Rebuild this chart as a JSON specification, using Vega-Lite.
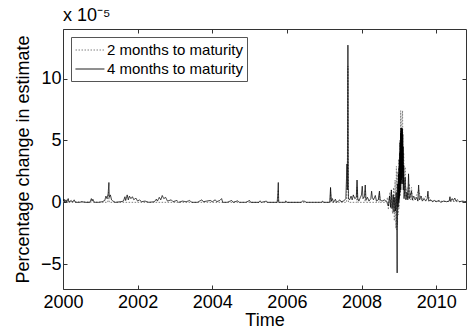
{
  "$schema": "https://vega.github.io/schema/vega-lite/v6.json",
  "width": 403,
  "height": 260,
  "autosize": {"type": "none"},
  "padding": {"left": 63, "top": 29, "right": 1, "bottom": 45},
  "background": "white",
  "config": {
    "font": "Liberation Sans",
    "view": {"stroke": "#333", "strokeWidth": 1},
    "axis": {"domain": false, "grid": false, "labelFlush": false, "labelOverlap": false, "tickColor": "#333", "tickSize": -4, "labelColor": "#000", "labelFontSize": 18, "titleFontSize": 18, "titleFontWeight": "normal", "titleColor": "#000", "labelFont": "Liberation Sans", "titleFont": "Liberation Sans"}
  },
  "title": {"text": "x 10⁻⁵", "anchor": "start", "frame": "group", "fontSize": 18, "fontWeight": "normal", "font": "Liberation Sans", "color": "#000", "offset": 4},
  "datasets": {
    "b": [
      {"t":2000.00,"v":0.1},{"t":2000.03,"v":0.25},{"t":2000.05,"v":0.0},{"t":2000.08,"v":0.2},{"t":2000.10,"v":0.05},{"t":2000.14,"v":0.3},{"t":2000.16,"v":0.0},{"t":2000.22,"v":0.15},{"t":2000.25,"v":0.0},{"t":2000.30,"v":0.2},{"t":2000.33,"v":0.0},{"t":2000.45,"v":0.0},{"t":2000.50,"v":0.05},{"t":2000.60,"v":0.0},{"t":2000.72,"v":0.0},{"t":2000.76,"v":0.3},{"t":2000.78,"v":0.1},{"t":2000.80,"v":0.25},{"t":2000.84,"v":0.0},{"t":2000.95,"v":0.0},{"t":2001.05,"v":0.05},{"t":2001.12,"v":0.15},{"t":2001.15,"v":0.5},{"t":2001.18,"v":0.3},{"t":2001.21,"v":0.7},{"t":2001.23,"v":1.6},{"t":2001.24,"v":0.4},{"t":2001.27,"v":0.6},{"t":2001.30,"v":0.2},{"t":2001.34,"v":0.1},{"t":2001.40,"v":0.0},{"t":2001.55,"v":0.05},{"t":2001.62,"v":0.1},{"t":2001.66,"v":0.45},{"t":2001.68,"v":0.15},{"t":2001.72,"v":0.6},{"t":2001.75,"v":0.2},{"t":2001.78,"v":0.5},{"t":2001.82,"v":0.3},{"t":2001.86,"v":0.45},{"t":2001.90,"v":0.2},{"t":2001.95,"v":0.35},{"t":2002.00,"v":0.1},{"t":2002.05,"v":0.2},{"t":2002.10,"v":0.05},{"t":2002.20,"v":0.1},{"t":2002.30,"v":0.0},{"t":2002.45,"v":0.05},{"t":2002.50,"v":0.25},{"t":2002.53,"v":0.1},{"t":2002.58,"v":0.4},{"t":2002.62,"v":0.2},{"t":2002.66,"v":0.55},{"t":2002.70,"v":0.3},{"t":2002.75,"v":0.4},{"t":2002.80,"v":0.1},{"t":2002.90,"v":0.2},{"t":2002.95,"v":0.05},{"t":2003.05,"v":0.15},{"t":2003.10,"v":0.0},{"t":2003.20,"v":0.1},{"t":2003.30,"v":0.05},{"t":2003.40,"v":0.15},{"t":2003.45,"v":0.0},{"t":2003.60,"v":0.0},{"t":2003.72,"v":0.2},{"t":2003.76,"v":0.05},{"t":2003.85,"v":0.1},{"t":2003.95,"v":0.15},{"t":2004.00,"v":0.05},{"t":2004.08,"v":0.2},{"t":2004.12,"v":0.05},{"t":2004.20,"v":0.15},{"t":2004.25,"v":0.3},{"t":2004.28,"v":0.0},{"t":2004.40,"v":0.0},{"t":2004.52,"v":0.15},{"t":2004.56,"v":0.0},{"t":2004.68,"v":0.12},{"t":2004.72,"v":0.0},{"t":2004.90,"v":0.0},{"t":2005.00,"v":0.15},{"t":2005.03,"v":0.0},{"t":2005.25,"v":0.0},{"t":2005.28,"v":0.12},{"t":2005.32,"v":0.0},{"t":2005.45,"v":0.1},{"t":2005.48,"v":0.0},{"t":2005.74,"v":0.0},{"t":2005.76,"v":0.8},{"t":2005.77,"v":1.6},{"t":2005.78,"v":0.0},{"t":2005.95,"v":0.0},{"t":2005.97,"v":0.12},{"t":2006.00,"v":0.0},{"t":2006.38,"v":0.0},{"t":2006.42,"v":0.1},{"t":2006.48,"v":0.08},{"t":2006.52,"v":0.0},{"t":2006.92,"v":0.0},{"t":2006.96,"v":0.1},{"t":2006.98,"v":0.0},{"t":2007.15,"v":0.0},{"t":2007.17,"v":1.2},{"t":2007.19,"v":0.1},{"t":2007.22,"v":0.3},{"t":2007.25,"v":0.0},{"t":2007.30,"v":0.25},{"t":2007.33,"v":0.0},{"t":2007.38,"v":0.1},{"t":2007.42,"v":0.2},{"t":2007.45,"v":0.05},{"t":2007.52,"v":0.1},{"t":2007.58,"v":0.3},{"t":2007.61,"v":3.1},{"t":2007.62,"v":1.0},{"t":2007.63,"v":7.4},{"t":2007.635,"v":12.7},{"t":2007.64,"v":7.4},{"t":2007.65,"v":0.3},{"t":2007.68,"v":0.2},{"t":2007.72,"v":0.5},{"t":2007.75,"v":0.2},{"t":2007.78,"v":0.6},{"t":2007.82,"v":0.3},{"t":2007.86,"v":0.4},{"t":2007.88,"v":1.8},{"t":2007.90,"v":0.3},{"t":2007.93,"v":0.1},{"t":2007.97,"v":0.4},{"t":2008.00,"v":0.6},{"t":2008.02,"v":1.3},{"t":2008.04,"v":0.3},{"t":2008.08,"v":0.5},{"t":2008.10,"v":1.4},{"t":2008.12,"v":0.2},{"t":2008.16,"v":0.4},{"t":2008.20,"v":0.1},{"t":2008.25,"v":0.3},{"t":2008.27,"v":0.9},{"t":2008.29,"v":0.4},{"t":2008.32,"v":0.2},{"t":2008.37,"v":0.55},{"t":2008.40,"v":0.1},{"t":2008.45,"v":0.2},{"t":2008.48,"v":0.9},{"t":2008.50,"v":0.2},{"t":2008.55,"v":0.1},{"t":2008.62,"v":0.2},{"t":2008.68,"v":0.0},{"t":2008.72,"v":-0.3},{"t":2008.75,"v":0.5},{"t":2008.78,"v":-0.4},{"t":2008.80,"v":1.0},{"t":2008.82,"v":-0.5},{"t":2008.85,"v":0.6},{"t":2008.87,"v":-0.8},{"t":2008.89,"v":0.4},{"t":2008.91,"v":-0.7},{"t":2008.93,"v":0.8},{"t":2008.945,"v":-0.6},{"t":2008.955,"v":-5.7},{"t":2008.96,"v":-0.5},{"t":2008.97,"v":1.5},{"t":2008.98,"v":-0.4},{"t":2008.99,"v":2.3},{"t":2009.00,"v":0.0},{"t":2009.005,"v":2.8},{"t":2009.01,"v":0.3},{"t":2009.015,"v":3.4},{"t":2009.02,"v":0.5},{"t":2009.025,"v":4.0},{"t":2009.03,"v":0.8},{"t":2009.035,"v":4.8},{"t":2009.04,"v":1.0},{"t":2009.045,"v":5.6},{"t":2009.05,"v":1.5},{"t":2009.055,"v":6.0},{"t":2009.06,"v":2.0},{"t":2009.065,"v":5.8},{"t":2009.07,"v":1.8},{"t":2009.075,"v":6.0},{"t":2009.08,"v":1.5},{"t":2009.085,"v":6.0},{"t":2009.09,"v":2.0},{"t":2009.095,"v":5.9},{"t":2009.10,"v":2.5},{"t":2009.105,"v":5.5},{"t":2009.11,"v":1.5},{"t":2009.115,"v":4.5},{"t":2009.12,"v":1.0},{"t":2009.13,"v":3.0},{"t":2009.14,"v":0.3},{"t":2009.17,"v":2.0},{"t":2009.19,"v":0.2},{"t":2009.22,"v":0.8},{"t":2009.24,"v":0.2},{"t":2009.26,"v":2.3},{"t":2009.28,"v":0.3},{"t":2009.31,"v":0.6},{"t":2009.34,"v":0.9},{"t":2009.36,"v":0.2},{"t":2009.40,"v":0.5},{"t":2009.44,"v":0.2},{"t":2009.48,"v":0.4},{"t":2009.51,"v":0.1},{"t":2009.53,"v":1.4},{"t":2009.55,"v":0.2},{"t":2009.60,"v":0.5},{"t":2009.63,"v":0.1},{"t":2009.68,"v":0.3},{"t":2009.72,"v":0.1},{"t":2009.76,"v":0.3},{"t":2009.78,"v":0.9},{"t":2009.80,"v":0.1},{"t":2009.86,"v":0.2},{"t":2009.90,"v":0.05},{"t":2009.95,"v":0.15},{"t":2010.00,"v":0.05},{"t":2010.08,"v":0.15},{"t":2010.12,"v":0.0},{"t":2010.20,"v":0.1},{"t":2010.28,"v":0.05},{"t":2010.35,"v":0.1},{"t":2010.37,"v":0.45},{"t":2010.39,"v":0.1},{"t":2010.43,"v":0.3},{"t":2010.46,"v":0.15},{"t":2010.50,"v":0.35},{"t":2010.53,"v":0.1},{"t":2010.57,"v":0.2},{"t":2010.62,"v":0.05},{"t":2010.70,"v":0.1},{"t":2010.80,"v":0.05}
    ],
    "a": [
      {"t":2000.00,"v":0.05},{"t":2001.20,"v":0.0},{"t":2001.22,"v":0.8},{"t":2001.24,"v":0.0},{"t":2005.75,"v":0.0},{"t":2005.77,"v":1.0},{"t":2005.78,"v":0.0},{"t":2007.16,"v":0.0},{"t":2007.17,"v":0.8},{"t":2007.19,"v":0.0},{"t":2007.60,"v":0.0},{"t":2007.62,"v":2.5},{"t":2007.635,"v":11.0},{"t":2007.65,"v":0.0},{"t":2007.87,"v":0.0},{"t":2007.88,"v":1.2},{"t":2007.90,"v":0.0},{"t":2008.09,"v":0.0},{"t":2008.10,"v":1.0},{"t":2008.12,"v":0.0},{"t":2008.47,"v":0.0},{"t":2008.48,"v":0.7},{"t":2008.50,"v":0.0},{"t":2008.65,"v":0.0},{"t":2008.70,"v":0.4},{"t":2008.72,"v":-0.6},{"t":2008.76,"v":0.8},{"t":2008.79,"v":-0.5},{"t":2008.80,"v":1.0},{"t":2008.83,"v":-0.9},{"t":2008.86,"v":1.2},{"t":2008.88,"v":-1.5},{"t":2008.90,"v":1.8},{"t":2008.92,"v":-2.1},{"t":2008.935,"v":2.9},{"t":2008.945,"v":-2.2},{"t":2008.955,"v":2.5},{"t":2008.965,"v":-1.8},{"t":2008.975,"v":1.5},{"t":2008.985,"v":-1.0},{"t":2008.995,"v":3.5},{"t":2009.005,"v":-0.5},{"t":2009.02,"v":5.0},{"t":2009.035,"v":0.5},{"t":2009.05,"v":7.4},{"t":2009.065,"v":1.0},{"t":2009.08,"v":6.5},{"t":2009.10,"v":7.4},{"t":2009.115,"v":1.5},{"t":2009.13,"v":4.0},{"t":2009.15,"v":0.5},{"t":2009.17,"v":2.85},{"t":2009.19,"v":0.3},{"t":2009.22,"v":1.2},{"t":2009.25,"v":0.3},{"t":2009.28,"v":1.5},{"t":2009.31,"v":0.2},{"t":2009.34,"v":1.2},{"t":2009.37,"v":0.1},{"t":2009.45,"v":0.4},{"t":2009.53,"v":1.0},{"t":2009.60,"v":0.2},{"t":2009.78,"v":0.6},{"t":2009.85,"v":0.1},{"t":2010.80,"v":0.05}
    ]
  },
  "layer": [
    {
      "data": {"name": "a"},
      "transform": [{"calculate": "'a'", "as": "s"}],
      "mark": {"type": "line", "strokeWidth": 1, "clip": true},
      "encoding": {
        "x": {"field": "t", "type": "quantitative", "scale": {"domain": [2000, 2010.8], "nice": false, "zero": false}, "axis": {"values": [2000, 2002, 2004, 2006, 2008, 2010], "format": "d", "title": "Time", "labelPadding": 8, "titlePadding": 0}},
        "y": {"field": "v", "type": "quantitative", "scale": {"domain": [-7, 14], "nice": false, "zero": false}, "axis": {"values": [-5, 0, 5, 10], "title": "Percentage change in estimate", "labelPadding": 6, "titlePadding": 8}},
        "color": {"field": "s", "type": "nominal", "scale": {"domain": ["a", "b"], "range": ["#808080", "#000000"]}, "legend": {"title": null, "orient": "none", "legendX": 8, "legendY": 8, "labelExpr": "datum.label == 'a' ? '2 months to maturity' : '4 months to maturity'", "labelFontSize": 15, "labelFont": "Liberation Sans", "labelColor": "#000", "symbolType": "M-1,0H2.4", "symbolSize": 289, "symbolStrokeWidth": 1, "labelOffset": 14, "padding": 4, "rowPadding": 2, "strokeColor": "#555", "fillColor": "white"}},
        "strokeDash": {"field": "s", "type": "nominal", "scale": {"domain": ["a", "b"], "range": [[1.5, 1.5], [1, 0]]}, "legend": null}
      }
    },
    {
      "data": {"name": "b"},
      "transform": [{"calculate": "'b'", "as": "s"}],
      "mark": {"type": "line", "strokeWidth": 0.8, "clip": true},
      "encoding": {
        "x": {"field": "t", "type": "quantitative", "scale": {"domain": [2000, 2010.8], "nice": false, "zero": false}, "axis": {"orient": "top", "values": [2000, 2002, 2004, 2006, 2008, 2010], "labels": false, "title": null}},
        "y": {"field": "v", "type": "quantitative", "scale": {"domain": [-7, 14], "nice": false, "zero": false}, "axis": {"orient": "right", "values": [-5, 0, 5, 10], "labels": false, "title": null}},
        "color": {"field": "s", "type": "nominal"},
        "strokeDash": {"field": "s", "type": "nominal"}
      }
    }
  ],
  "resolve": {"axis": {"x": "independent", "y": "independent"}}
}
